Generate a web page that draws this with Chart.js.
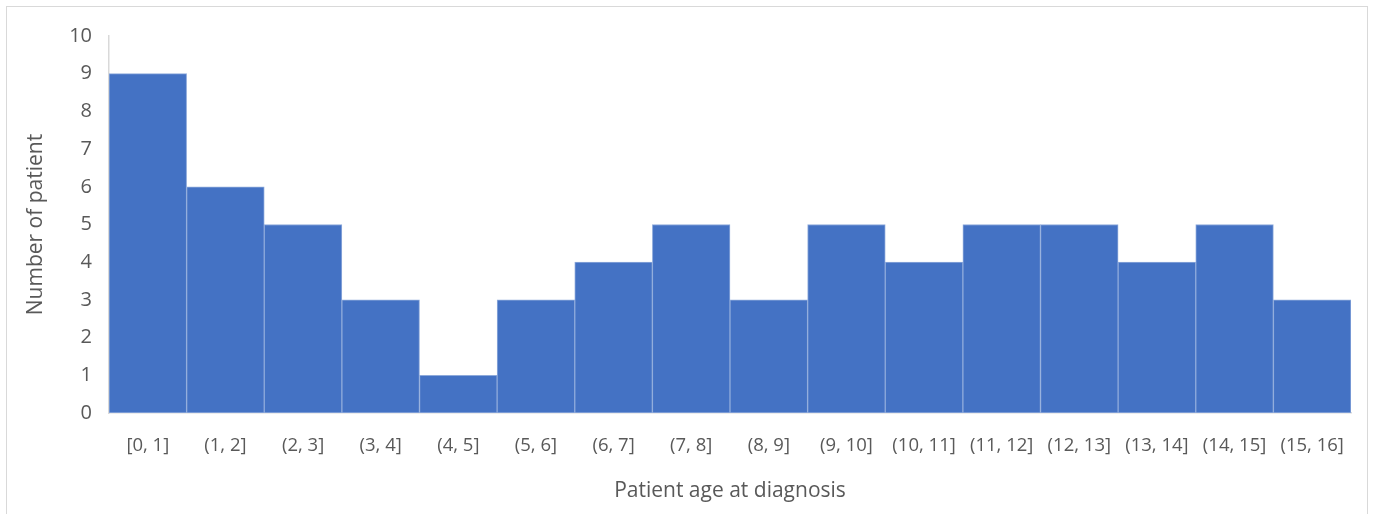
<!DOCTYPE html>
<html>
<head>
<meta charset="utf-8">
<script src="https://cdn.jsdelivr.net/npm/chart.js@4"></script>
<style>
  html, body { margin: 0; padding: 0; background: #fff; overflow: hidden; }
  #wrap { position: relative; width: 1375px; height: 514px; }
  #frame { position: absolute; left: 6px; top: 6px; width: 1362px; height: 520px; border: 1px solid #d9d9d9; box-sizing: border-box; }
  canvas { position: absolute; left: 0; top: 0; }
</style>
</head>
<body>
<div id="wrap">
  <div id="frame"></div>
  <canvas id="c" width="1375" height="514"></canvas>
</div>
<script>
const categories = ["[0, 1]", "(1, 2]", "(2, 3]", "(3, 4]", "(4, 5]", "(5, 6]", "(6, 7]", "(7, 8]",
  "(8, 9]", "(9, 10]", "(10, 11]", "(11, 12]", "(12, 13]", "(13, 14]", "(14, 15]", "(15, 16]"];
const patientCounts = [9, 6, 5, 3, 1, 3, 4, 5, 3, 5, 4, 5, 5, 4, 5, 3];
const yTicks = [0, 1, 2, 3, 4, 5, 6, 7, 8, 9, 10];

const FONT = "'Open Sans', sans-serif";
const GREY = "#595959";

new Chart(document.getElementById('c'), {
  type: 'bar',
  data: {
    labels: categories,
    datasets: [{
      data: patientCounts,
      backgroundColor: '#4472c4',
      borderColor: '#8eaadb',
      borderWidth: 1,
      borderSkipped: false,
      barPercentage: 1,
      categoryPercentage: 1
    }]
  },
  options: {
    responsive: false,
    animation: false,
    devicePixelRatio: 1,
    layout: { padding: { top: 36, right: 24, left: 0, bottom: 0 } },
    plugins: { legend: { display: false }, tooltip: { enabled: false } },
    scales: {
      x: {
        offset: true,
        grid: { display: false, drawTicks: false },
        border: { display: true, color: '#d9d9d9', width: 1.5 },
        ticks: { color: GREY, font: { family: FONT, size: 18.5 }, padding: 22, maxRotation: 0, autoSkip: false },
        title: { display: true, text: 'Patient age at diagnosis', color: GREY, font: { family: FONT, size: 21 }, padding: { top: 0, bottom: 10 } },
        afterFit: (s) => { s.height = 101; }
      },
      y: {
        min: 0, max: 10,
        afterBuildTicks: (s) => { s.ticks = yTicks.map(v => ({ value: v })); },
        grid: { display: false, drawTicks: false },
        border: { display: true, color: '#d9d9d9', width: 1.5 },
        ticks: { color: GREY, font: { family: FONT, size: 20 }, padding: 17 },
        title: { display: true, text: 'Number of patient', color: GREY, font: { family: FONT, size: 21 }, padding: { top: 23, bottom: 0 } },
        afterFit: (s) => { s.width = 109; }
      }
    }
  }
});
</script>
</body>
</html>
